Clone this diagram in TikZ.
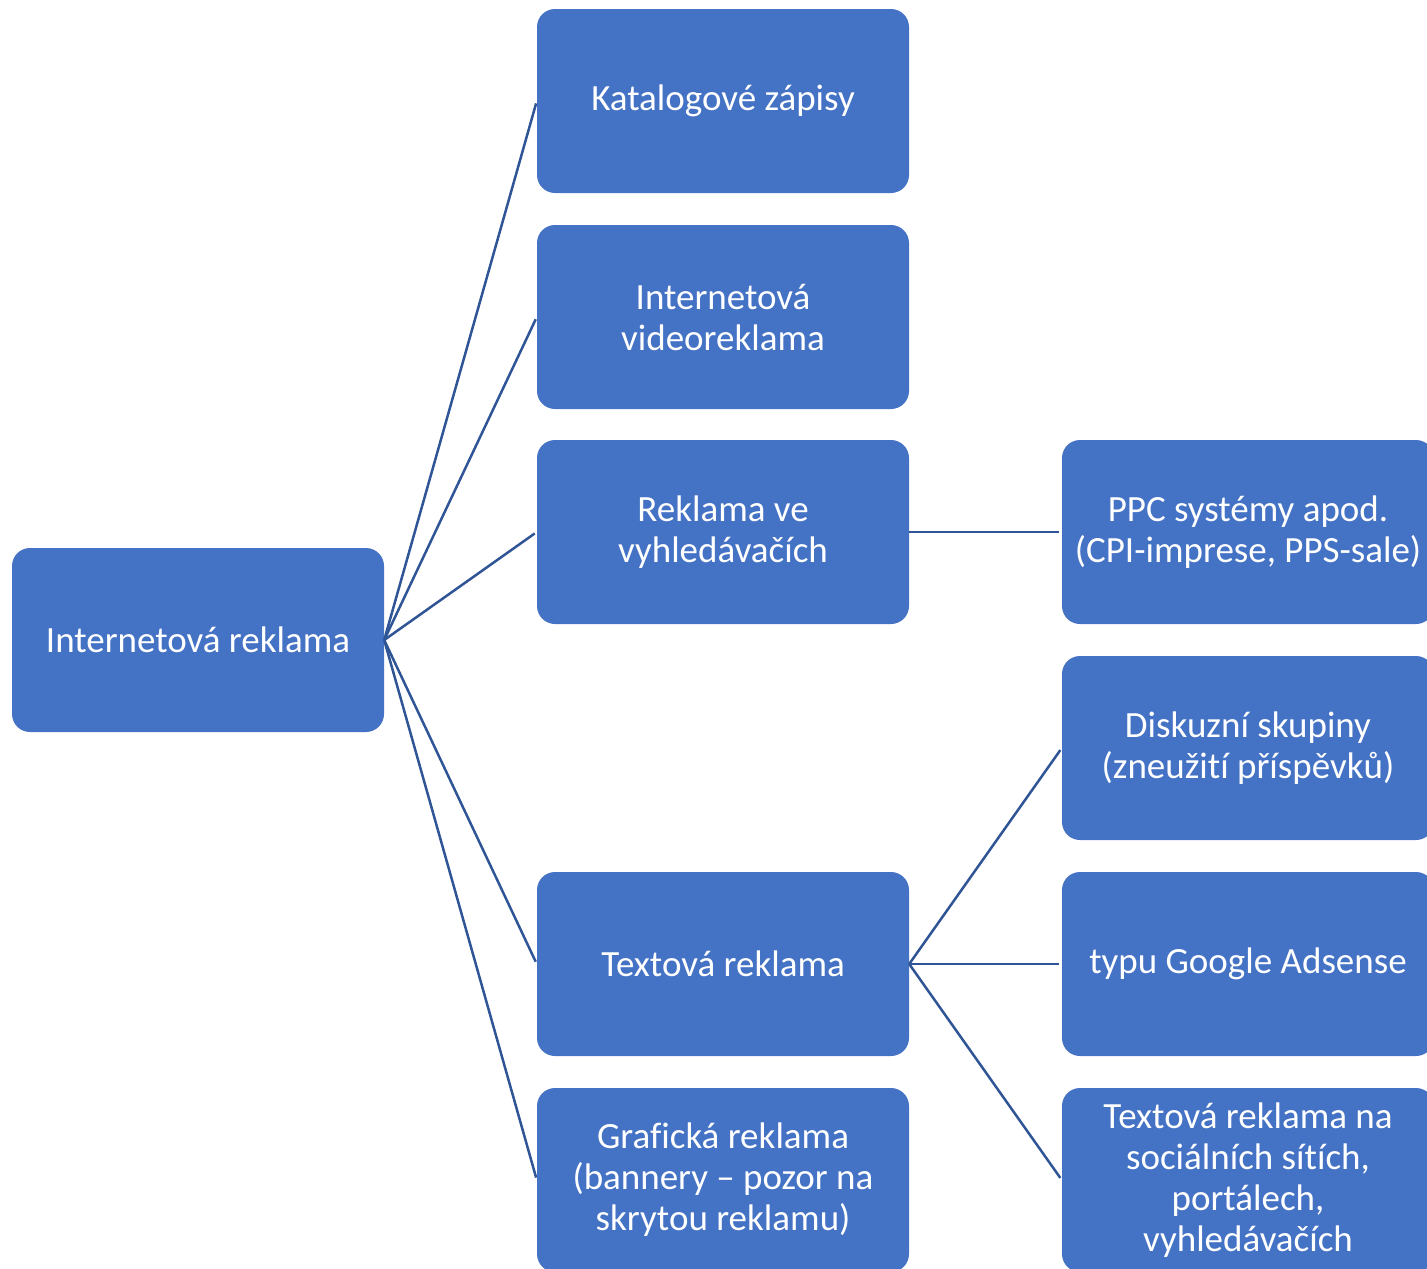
\documentclass[tikz,border=0pt]{standalone}
\usepackage{fontspec}
\setmainfont{Carlito}[Ligatures=NoCommon]
\definecolor{boxblue}{HTML}{4472C4}
\definecolor{lineblue}{HTML}{2F5597}
\begin{document}
\begin{tikzpicture}[x=1pt,y=-1pt,
  box/.style={draw=none,fill=boxblue,rounded corners=18pt,minimum width=372pt,minimum height=184pt,
    text=white,align=center,inner sep=0pt,font=\fontsize{37}{41}\selectfont},
  conn/.style={draw=lineblue,line width=2.5pt,shorten >=2.5pt}]
\useasboundingbox (0,0) rectangle (1427,1269);
\clip (0,0) rectangle (1427,1269);
\node[box] (root) at (198,640) {Internetová reklama};
\node[box] (kat) at (723,101) {Katalogové zápisy};
\node[box] (vid) at (723,317) {Internetová\\videoreklama};
\node[box] (vyh) at (723,532) {Reklama ve\\vyhledávačích};
\node[box] (txt) at (723,964) {Textová reklama};
\node[box] (gra) at (723,1180) {Grafická reklama\\(bannery – pozor na\\skrytou reklamu)};
\node[box] (ppc) at (1248,532) {PPC systémy apod.\\(CPI-imprese, PPS-sale)};
\node[box] (dis) at (1248,748) {Diskuzní skupiny\\(zneužití příspěvků)};
\node[box] (goo) at (1248,964) {typu Google Adsense};
\node[box] (soc) at (1248,1180) {Textová reklama na\\sociálních sítích,\\portálech,\\vyhledávačích};
\foreach \c in {kat,vid,vyh,txt,gra}
  \draw[conn] (root.east) -- (\c.west);
\draw[conn] (vyh.east) -- (ppc.west);
\foreach \c in {dis,goo,soc}
  \draw[conn] (txt.east) -- (\c.west);
\end{tikzpicture}
\end{document}
